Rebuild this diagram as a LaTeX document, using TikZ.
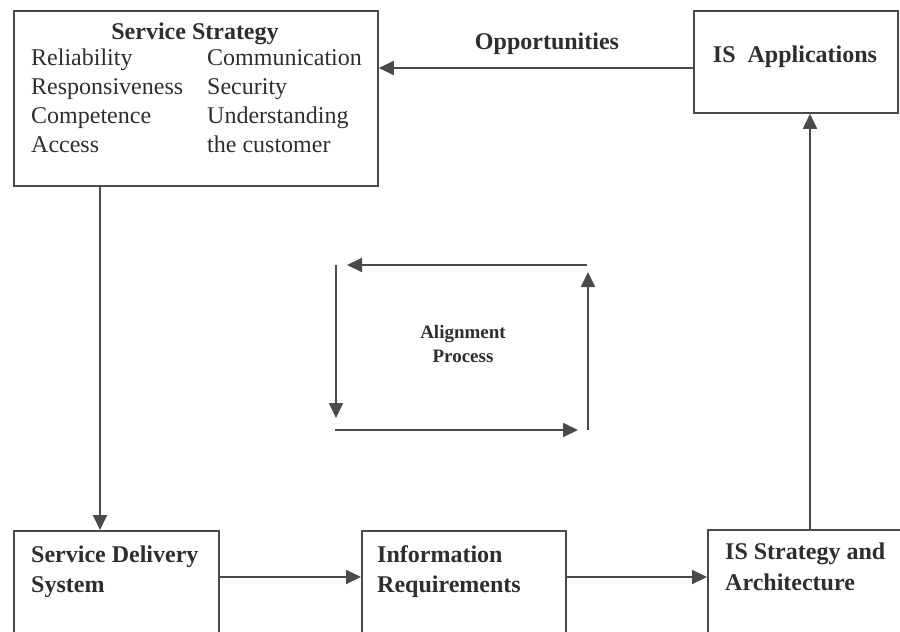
\documentclass[tikz,border=0pt]{standalone}
\usepackage{fontspec}
\setmainfont{Liberation Serif}
\usetikzlibrary{arrows.meta}
\definecolor{linegray}{HTML}{4A4A4A}
\definecolor{textgray}{HTML}{2E2E2E}
\tikzset{
  box/.style={draw=linegray, line width=1.8pt, inner sep=0pt, anchor=north west},
  flow/.style={draw=linegray, line width=1.8pt, -{Triangle[length=15pt,width=14pt]}},
  txt/.style={text=textgray, inner sep=0pt, anchor=base west, font=\fontsize{24}{28}\selectfont},
  btxt/.style={txt, font=\fontsize{24}{28}\selectfont\bfseries},
  stxt/.style={txt, anchor=base, font=\fontsize{19}{24}\selectfont\bfseries},
}
\begin{document}
\begin{tikzpicture}[x=1pt,y=-1pt]
  \useasboundingbox (0,0) rectangle (900,632);
  \clip (0,0) rectangle (900,632);
  % boxes
  \node[box, minimum width=364pt, minimum height=175pt] (strategy) at (13,10) {};
  \node[box, minimum width=204pt, minimum height=102pt] (apps) at (693,10) {};
  \node[box, minimum width=205pt, minimum height=120pt] (delivery) at (13,530) {};
  \node[box, minimum width=204pt, minimum height=120pt] (inforeq) at (361,530) {};
  \node[box, minimum width=220pt, minimum height=120pt] (isstrat) at (707,529) {};
  % texts
  \node[btxt, anchor=base] (strattitle) at (195,39) {Service Strategy};
  \node[txt] (rel) at (31,65) {Reliability};
  \node[txt] (resp) at (31,94) {Responsiveness};
  \node[txt] (comp) at (31,123) {Competence};
  \node[txt] (acc) at (31,152) {Access};
  \node[txt] (comm) at (207,65) {Communication};
  \node[txt] (sec) at (207,94) {Security};
  \node[txt] (und) at (207,123) {Understanding};
  \node[txt] (cust) at (207,152) {the customer};
  \node[btxt, anchor=base] (appstxt) at (795,62) {IS\ \ Applications};
  \node[btxt, anchor=base] (opp) at (547,49) {Opportunities};
  \node[btxt] (deltxt) at (31,562) {Service Delivery};
  \node[btxt] (deltxtb) at (31,592) {System};
  \node[btxt] (inftxt) at (377,562) {Information};
  \node[btxt] (inftxtb) at (377,592) {Requirements};
  \node[btxt] (iststxt) at (725,559) {IS Strategy and};
  \node[btxt] (iststxtb) at (725,590) {Architecture};
  \node[stxt] (aligntxt) at (463,338) {Alignment};
  \node[stxt] (proctxt) at (463,362) {Process};
  % connectors
  \coordinate (opprow) at (0,68);
  \coordinate (dropcol) at (100,0);
  \coordinate (flowrow) at (0,577);
  \coordinate (risecol) at (810,0);
  \draw[flow] (apps.west |- opprow) -- (strategy.east |- opprow);
  \draw[flow] (strategy.south -| dropcol) -- (delivery.north -| dropcol);
  \draw[flow] (delivery.east |- flowrow) -- (inforeq.west |- flowrow);
  \draw[flow] (inforeq.east |- flowrow) -- (isstrat.west |- flowrow);
  \draw[flow] (isstrat.north -| risecol) -- (apps.south -| risecol);
  % alignment loop
  \coordinate (topR) at (587,265);
  \coordinate (topL) at (347,265);
  \coordinate (leftT) at (336,265);
  \coordinate (leftB) at (336,418);
  \coordinate (botL) at (335,430);
  \coordinate (botR) at (578,430);
  \coordinate (rightB) at (588,430);
  \coordinate (rightT) at (588,272);
  \draw[flow] (topR) -- (topL);
  \draw[flow] (leftT) -- (leftB);
  \draw[flow] (botL) -- (botR);
  \draw[flow] (rightB) -- (rightT);
\end{tikzpicture}
\end{document}
